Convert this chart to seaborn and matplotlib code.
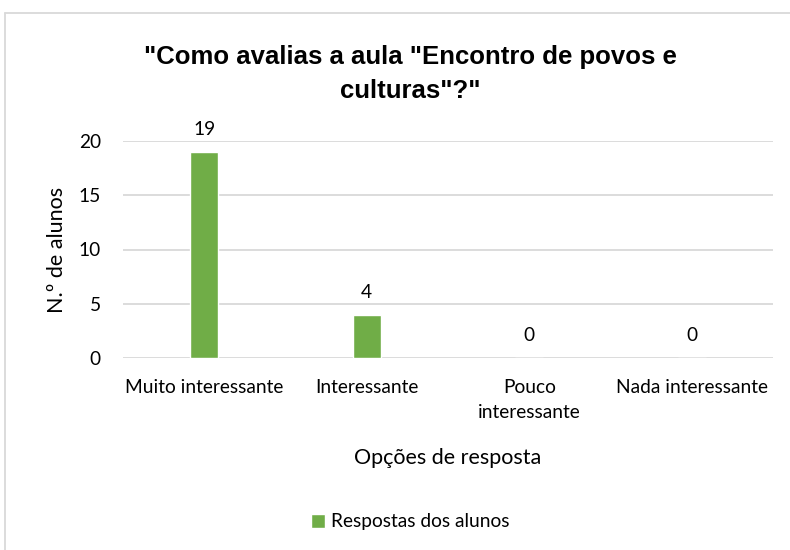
import matplotlib
matplotlib.use("Agg")
import matplotlib.pyplot as plt
import seaborn as sns
import pandas as pd

categories = ["Muito interessante", "Interessante", "Pouco\ninteressante", "Nada interessante"]
values = [19, 4, 0, 0]
series_name = "Respostas dos alunos"
title = "\"Como avalias a aula \"Encontro de povos e\nculturas\"?\""
y_ticks = [0, 5, 10, 15, 20]

sns.set_theme(style="white")
plt.rcParams['font.family'] = ['Lato', 'DejaVu Sans']
plt.rcParams['text.color'] = 'black'
plt.rcParams['axes.labelcolor'] = 'black'

df = pd.DataFrame({"cat": categories, "val": values, "serie": series_name})

fig = plt.figure(figsize=(7.9, 5.5), dpi=100)
ax = fig.add_axes([123/790, 1 - 358/550, 650/790, 217/550])

sns.barplot(data=df, x="cat", y="val", hue="serie", palette=["#70AD47"],
            width=0.17, ax=ax, legend=True, saturation=1)

ax.set_ylim(0, 20)
ax.set_xlim(-0.5, 3.5)
ax.set_yticks(y_ticks)
ax.yaxis.grid(True, color="#d9d9d9", linewidth=1.3)
ax.set_axisbelow(True)
for s in ax.spines.values():
    s.set_visible(False)
ax.tick_params(axis="both", length=0, labelsize=13.8, colors="#000000")
ax.tick_params(axis="y", pad=16)
ax.tick_params(axis="x", pad=15)
for lbl in ax.get_xticklabels():
    lbl.set_linespacing(1.6)

for c in ax.containers:
    ax.bar_label(c, labels=[str(v) for v in values], padding=10, fontsize=13.8, color="#000000")

ax.set_ylabel("N.º de alunos", fontsize=15.5, labelpad=8)
ax.set_xlabel("Opções de resposta", fontsize=15.5, labelpad=19)

fig.text(410/790, 1 - 74/550, title, ha="center", va="center", fontsize=18.5,
         fontweight="bold", family="Liberation Sans", linespacing=1.5, color="black")

leg = ax.legend(loc="center", bbox_to_anchor=(410/790, 1 - 522/550),
                bbox_transform=fig.transFigure, frameon=False, fontsize=13.8,
                handlelength=0.75, handleheight=0.75, handletextpad=0.3)

# figure border (top and left)
fig.add_artist(plt.Line2D([5/790, 1], [1 - 13/550, 1 - 13/550], transform=fig.transFigure, color="#d9d9d9", linewidth=1.3))
fig.add_artist(plt.Line2D([5/790, 5/790], [0, 1 - 13/550], transform=fig.transFigure, color="#d9d9d9", linewidth=1.3))

fig.savefig("out.png", dpi=100)
